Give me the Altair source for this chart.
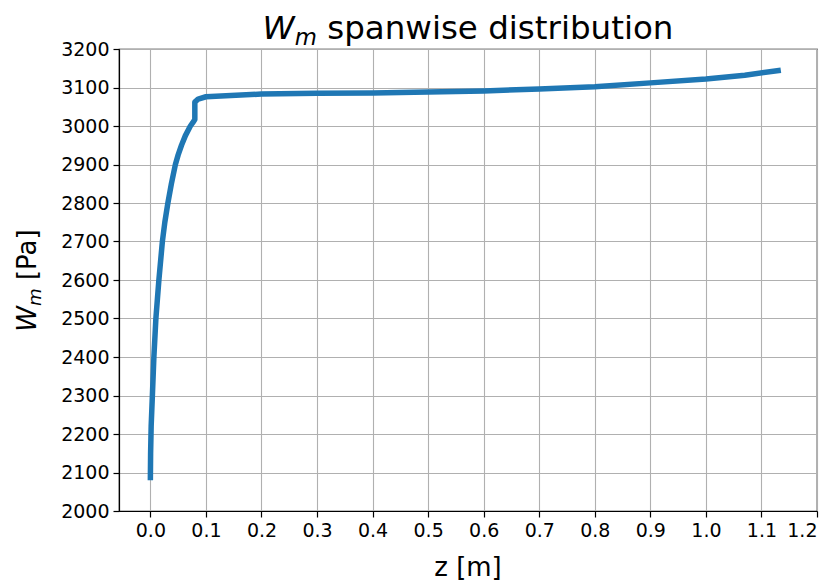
import altair as alt
import pandas as pd

# ---- data ----
z_m = [0.0, 0.0004, 0.0014, 0.0036, 0.0063, 0.0099, 0.0153, 0.0216, 0.026, 0.0315,
       0.0378, 0.045, 0.050, 0.056, 0.063, 0.072, 0.076, 0.080, 0.080,
       0.086, 0.100, 0.200, 0.300, 0.400, 0.500, 0.600, 0.700, 0.800, 0.900,
       1.000, 1.070, 1.130]
w_pa = [2087, 2150, 2220, 2300, 2400, 2500, 2600, 2700, 2750, 2800,
        2850, 2900, 2925, 2950, 2975, 3000, 3008, 3017, 3062,
        3070, 3076, 3083, 3085, 3086, 3088, 3091, 3096, 3102, 3112,
        3122, 3132, 3144]

x_ticks = [0.0, 0.1, 0.2, 0.3, 0.4, 0.5, 0.6, 0.7, 0.8, 0.9, 1.0, 1.1, 1.2]
y_ticks = [2000, 2100, 2200, 2300, 2400, 2500, 2600, 2700, 2800, 2900, 3000, 3100, 3200]

title_sym = "W"
title_sub = "m"
title_rest = "spanwise distribution"
ylab_sym = "W"
ylab_sub = "m"
ylab_rest = "[Pa]"
xlab = "z [m]"

FONT = "DejaVu Sans"
W, H = 698, 462
TICK_FS = 19
LAB_FS = 26
TITLE_FS = 32.5

df = pd.DataFrame({"z": z_m, "w": w_pa, "idx": list(range(len(z_m)))})

line = alt.Chart(df).mark_line(
    color="#1f77b4", strokeWidth=5.5, strokeCap="square", strokeJoin="round"
).encode(
    x=alt.X("z:Q", scale=alt.Scale(domain=[-0.0565, 1.2], nice=False, zero=False),
            axis=alt.Axis(values=x_ticks, format=".1f", title=None)),
    y=alt.Y("w:Q", scale=alt.Scale(domain=[2000, 3200], nice=False, zero=False),
            axis=alt.Axis(values=y_ticks, format="d", title=None)),
    order=alt.Order("idx:Q"),
)


def txt(text, x, y, size, style="normal", angle=0):
    return alt.Chart(pd.DataFrame({"t": [text]})).mark_text(
        x=x, y=y, align="left", baseline="alphabetic", font=FONT,
        fontSize=size, fontStyle=style, angle=angle, color="black",
    ).encode(text="t:N")


# title pieces
t_w_sym = 0.989 * TITLE_FS
t_sub_fs = TITLE_FS * 0.7
t_w_sub = 0.974 * t_sub_fs
t_w_rest = 10.65 * TITLE_FS
t_total = t_w_sym + t_w_sub + 0.318 * TITLE_FS + t_w_rest
tx0 = W / 2 - t_total / 2
ty = -10
title_layers = [
    txt(title_sym, tx0, ty, TITLE_FS, "italic"),
    txt(title_sub, tx0 + t_w_sym, ty + 6, t_sub_fs, "italic"),
    txt(title_rest, tx0 + t_w_sym + t_w_sub + 0.318 * TITLE_FS, ty, TITLE_FS),
]

# y label pieces (rotated)
y_sub_fs = LAB_FS * 0.7
y_w_sym = 0.989 * LAB_FS
y_w_sub = 0.974 * y_sub_fs
y_total = y_w_sym + y_w_sub + 2.314 * LAB_FS
ly0 = H / 2 + y_total / 2
lx = -83
ylab_layers = [
    txt(ylab_sym, lx, ly0, LAB_FS, "italic", 270),
    txt(ylab_sub, lx + 5, ly0 - y_w_sym, y_sub_fs, "italic", 270),
    txt(ylab_rest, lx, ly0 - y_w_sym - y_w_sub - 0.318 * LAB_FS, LAB_FS, "normal", 270),
]

xlab_layer = alt.Chart(pd.DataFrame({"t": [xlab]})).mark_text(
    x=W / 2, y=H + 65, align="center", baseline="alphabetic", font=FONT,
    fontSize=LAB_FS, color="black",
).encode(text="t:N")

chart = alt.layer(line, *title_layers, *ylab_layers, xlab_layer).properties(
    width=W, height=H,
    autosize=alt.AutoSizeParams(type="none"),
    padding={"left": 111, "top": 41, "right": 8, "bottom": 72},
    background="white",
).configure_view(
    stroke="black", strokeWidth=1.2
).configure_axis(
    grid=True, gridColor="#b0b0b0", gridWidth=1.1,
    domain=True, domainColor="black", domainWidth=1.2,
    ticks=True, tickColor="black", tickSize=6, tickWidth=1.2,
    labelFont=FONT, labelFontSize=TICK_FS, labelColor="black", labelPadding=4,
)

chart.save("out.html", embed_options={"renderer": "svg", "actions": False})
